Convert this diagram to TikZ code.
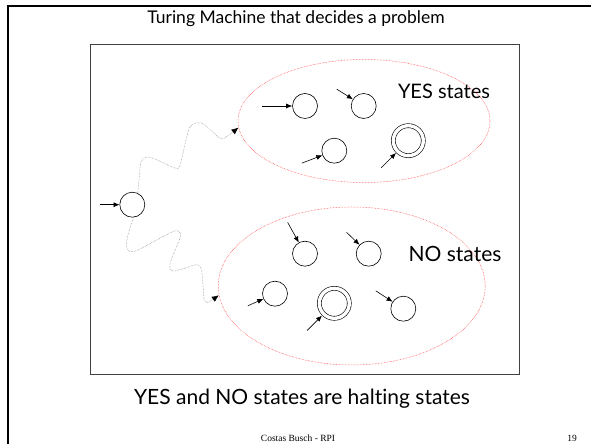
\documentclass[tikz,border=0pt]{standalone}
\usepackage{fontspec}
\setmainfont{Lato}[Ligatures={NoCommon}]
\newfontfamily\footfont{Liberation Serif}
\usetikzlibrary{arrows.meta, positioning, shapes.geometric, calc}

\tikzset{
  state/.style={circle, draw, line width=0.6pt, minimum size=25pt, inner sep=0pt},
  accept/.style={state, double, double distance=3.4pt, minimum size=30pt, outer sep=2.4pt},
  inarrow/.style={-{Latex[length=6pt, width=5pt]}, line width=0.6pt},
  stateset/.style={ellipse, draw=red!85, densely dotted, line width=0.5pt, inner sep=0pt},
  wavy/.style={gray, densely dotted, line width=0.5pt, -{Latex[length=7pt, width=6pt, black]}},
}

\begin{document}
\begin{tikzpicture}[x=1pt, y=1pt]
\useasboundingbox (0,0) rectangle (591,444);
% slide frame and machine box
\draw[line width=2.3pt] (8,0) -- (8,438) -- (591,438);
\draw[black!75, line width=0.8pt] (90.7,399.3) rectangle (519.3,70);

\node[anchor=base, font=\fontsize{17.5}{21}\selectfont] (title) at (296,420) {Turing Machine that decides a problem};

% the two groups of halting states
\node[stateset, minimum width=252pt, minimum height=123pt] (yesset) at (364,323) {};
\node[stateset, minimum width=267pt, minimum height=158pt] (noset) at (351.7,158) {};
\node[anchor=base, font=\fontsize{20}{24}\selectfont] (yeslabel) at (444,345) {YES states};
\node[anchor=base, font=\fontsize{21}{25}\selectfont] (nolabel) at (455,182.3) {NO states};

% states
\node[state] (q0) at (132.3,239.3) {};
\foreach \s/\x/\y in {s1/305/338, s2/363.7/338, s3/334.3/293.3,
                      n1/305/190.3, n2/368.7/190.3, n3/275/150.3, n5/403.3/135.3}
  \node[state] (\s) at (\x,\y) {};
\node[accept] (s4) at (408.3,303.3) {};
\node[accept] (n4) at (334.3,140.7) {};

% incoming arrows: state/angle/length
\foreach \s/\a/\l in {q0/180/20, s1/180/30, s2/148/19, s3/201/22, s4/225/21,
                      n1/119/23, n2/136/18, n3/204/17, n4/225/21, n5/147/20} {
  \coordinate (\s-in) at ($(\s.\a)+(\a:\l)$);
  \draw[inarrow] (\s-in) -- (\s.\a);
}

% computations ending in a halting state
\draw[wavy] plot[smooth, tension=0.55] coordinates {(q0.65) (139.5,269) (141,282) (146,287)
  (155,285) (175,276) (180,279) (186,304) (190,317) (197,321.3) (205,319) (220,306)
  (226,307) (yesset.183)};
\draw[wavy] plot[smooth, tension=0.55] coordinates {(q0.-85) (128,209) (126.5,198) (130,192.3)
  (140,195) (172,212) (179,212) (180,206) (170,180) (174,173) (195,179) (201,176)
  (203,159) (204,145) (207.5,141.5) (212,144) (noset.184)};

\node[anchor=base, font=\fontsize{21}{25}\selectfont] (caption) at (302,39) {YES and NO states are halting states};
\node[anchor=base, font=\footfont\fontsize{9.5}{11}\selectfont] (footer) at (298,2) {Costas Busch - RPI};
\node[anchor=base, font=\footfont\fontsize{9.5}{11}\selectfont] (pageno) at (572,2) {19};
\end{tikzpicture}
\end{document}
